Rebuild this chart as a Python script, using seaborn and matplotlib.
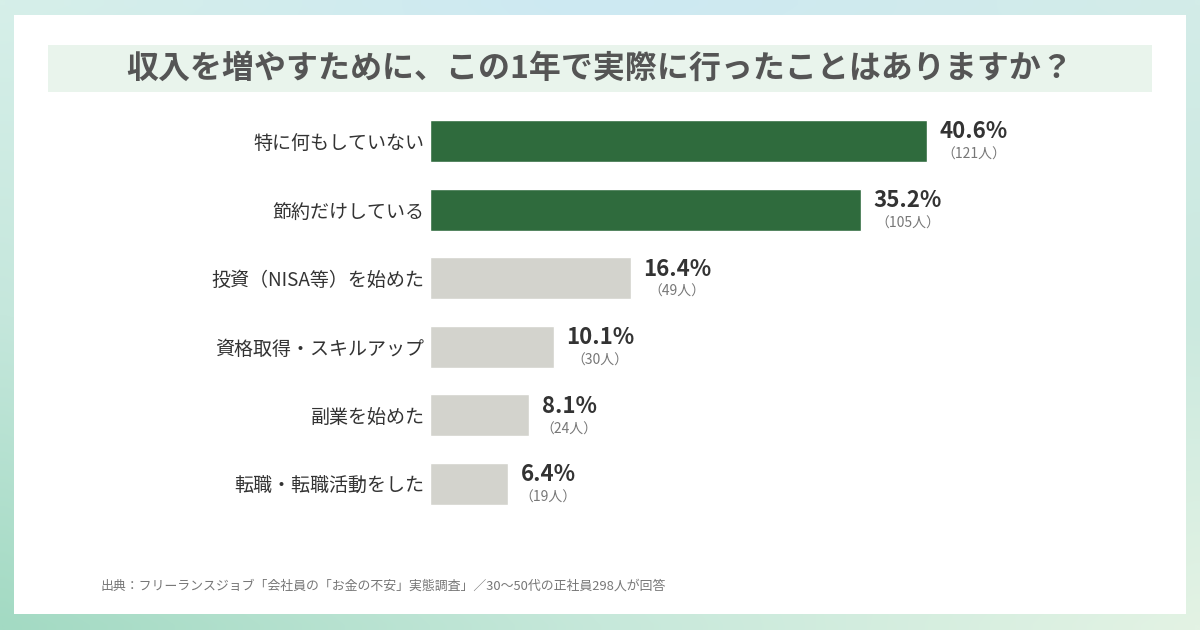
import numpy as np
import pandas as pd
import matplotlib
matplotlib.use('Agg')
import matplotlib.pyplot as plt
import matplotlib.patches as patches
from matplotlib.colors import to_rgb
import seaborn as sns

# data
categories = ['特に何もしていない', '節約だけしている', '投資（NISA等）を始めた',
              '資格取得・スキルアップ', '副業を始めた', '転職・転職活動をした']
percents = [40.6, 35.2, 16.4, 10.1, 8.1, 6.4]
counts = [121, 105, 49, 30, 24, 19]
bar_colors = ['#2f6b3d', '#2f6b3d', '#d3d3cd', '#d3d3cd', '#d3d3cd', '#d3d3cd']

title = '収入を増やすために、この1年で実際に行ったことはありますか？'
source = '出典：フリーランスジョブ「会社員の「お金の不安」実態調査」／30〜50代の正社員298人が回答'

sns.set_theme(style='white')
plt.rcParams['font.family'] = ['Noto Sans CJK JP', 'DejaVu Sans']

fig = plt.figure(figsize=(12, 6.3), dpi=100)

# gradient frame behind the white panel
bg = fig.add_axes([0, 0, 1, 1])
grid = np.array([
    [to_rgb('#d6efe9'), to_rgb('#cde9f3'), to_rgb('#d3ece8')],
    [to_rgb('#c5e7dc'), to_rgb('#d8eee8'), to_rgb('#cbe9df')],
    [to_rgb('#a3dac3'), to_rgb('#c6e8da'), to_rgb('#e3f3e4')],
])
ny, nx = 63, 120
yy = np.linspace(0, 2, ny)
xx = np.linspace(0, 2, nx)
img = np.zeros((ny, nx, 3))
for c in range(3):
    rows = np.array([np.interp(xx, [0, 1, 2], grid[r, :, c]) for r in range(3)])
    for j in range(nx):
        img[:, j, c] = np.interp(yy, [0, 1, 2], rows[:, j])
bg.imshow(img, extent=[0, 1, 0, 1], aspect='auto', interpolation='bilinear')
bg.add_patch(patches.Rectangle((14 / 1200, 1 - 614 / 630), 1172 / 1200, 599 / 630,
                               facecolor='white', edgecolor='none'))
bg.add_patch(patches.Rectangle((48 / 1200, 1 - 92 / 630), 1104 / 1200, 47 / 630,
                               facecolor='#e9f4ec', edgecolor='none'))
bg.set_xlim(0, 1)
bg.set_ylim(0, 1)
bg.axis('off')

fig.text(0.5, 1 - 69 / 630, title, ha='center', va='center', fontsize=23,
         fontweight='bold', color='#555555')
fig.text(100 / 1200, 1 - 586 / 630, source, ha='left', va='center', fontsize=9.3,
         color='#777777')

# bar chart
ax = fig.add_axes([430 / 1200, 1 - 518.3 / 630, 722 / 1200, 411.6 / 630])
ax.patch.set_alpha(0)
df = pd.DataFrame({'category': categories, 'percent': percents})
sns.barplot(data=df, x='percent', y='category', hue='category',
            palette=bar_colors, legend=False, width=0.61, saturation=1, ax=ax)
ax.set_xlim(0, 722 / 12.24)
ax.set_ylim(5.5, -0.5)
ax.set_xlabel('')
ax.set_ylabel('')
ax.set_xticks([])
sns.despine(ax=ax, left=True, bottom=True)
ax.tick_params(axis='y', length=0, pad=4, labelsize=13.7, labelcolor='#333333')

fig.canvas.draw()
renderer = fig.canvas.get_renderer()
inv = ax.transData.inverted()
for i, (p, n) in enumerate(zip(percents, counts)):
    t = ax.annotate(f'{p}%', xy=(p, i), xytext=(9, 6.5), textcoords='offset points',
                    ha='left', va='center', fontsize=16, fontweight='bold',
                    color='#333333')
    bb = t.get_window_extent(renderer)
    cx = inv.transform(((bb.x0 + bb.x1) / 2, 0))[0]
    ax.annotate(f'（{n}人）', xy=(cx, i), xytext=(0, -10), textcoords='offset points',
                ha='center', va='center', fontsize=10, color='#777777')

fig.savefig('out.png', dpi=100)
